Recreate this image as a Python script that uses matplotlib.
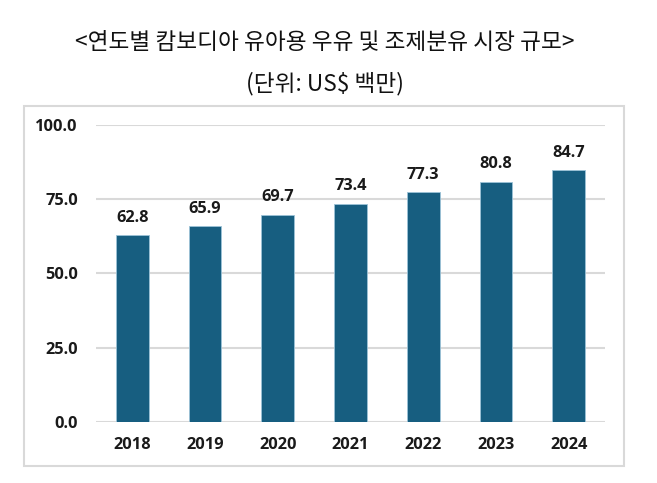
import matplotlib
matplotlib.use("Agg")
from matplotlib import pyplot as plt
from matplotlib.patches import Rectangle
import numpy as np

years = ['2018', '2019', '2020', '2021', '2022', '2023', '2024']
values = [62.8, 65.9, 69.7, 73.4, 77.3, 80.8, 84.7]
yticks = [0, 25, 50, 75, 100]

title = '<연도별 캄보디아 유아용 우유 및 조제분유 시장 규모>'
subtitle = '(단위: US$ 백만)'

plt.rcParams['font.family'] = ['Noto Sans CJK KR', 'DejaVu Sans']
num_font = ['Open Sans', 'DejaVu Sans']

fig = plt.figure(figsize=(6.57, 4.83), dpi=100)
ax = fig.add_axes([0.1461, 0.1263, 0.7747, 0.6149])

# 바깥 테두리
fig.add_artist(Rectangle((0.0365, 0.0352), 0.9132, 0.7453, transform=fig.transFigure,
                         fill=False, edgecolor='#d9d9d9', linewidth=1.5))

x = np.arange(len(years))
ax.bar(x, values, width=0.45, color='#175e80', edgecolor='#9cc3d8', linewidth=0.6, zorder=3)

for a, b in zip(x, values):
    ax.annotate('%.1f' % b, (a, b), xytext=(0, 7), textcoords='offset points',
                ha='center', va='bottom', fontsize=11.8, fontweight='bold',
                family=num_font, color='#1a1a1a')

ax.set_xlim(-0.5, len(years) - 0.5)
ax.set_ylim(0, 100)
ax.set_yticks(yticks)
ax.set_yticklabels(['%.1f' % v for v in yticks])
ax.set_xticks(x)
ax.set_xticklabels(years)
ax.yaxis.grid(True, color='#d9d9d9', linewidth=1.5, zorder=0)
ax.set_axisbelow(True)
for s in ax.spines.values():
    s.set_visible(False)
ax.tick_params(axis='both', length=0, labelsize=11.8, labelcolor='#1a1a1a')
ax.tick_params(axis='y', pad=13)
ax.tick_params(axis='x', pad=11)
for t in ax.get_xticklabels() + ax.get_yticklabels():
    t.set_fontweight('bold')
    t.set_family(num_font)

fig.text(0.494, 0.911, title, ha='center', va='center', fontsize=16.3, color='#111111')
fig.text(0.494, 0.826, subtitle, ha='center', va='center', fontsize=16.3, color='#111111')

fig.savefig('out.png', dpi=100)
